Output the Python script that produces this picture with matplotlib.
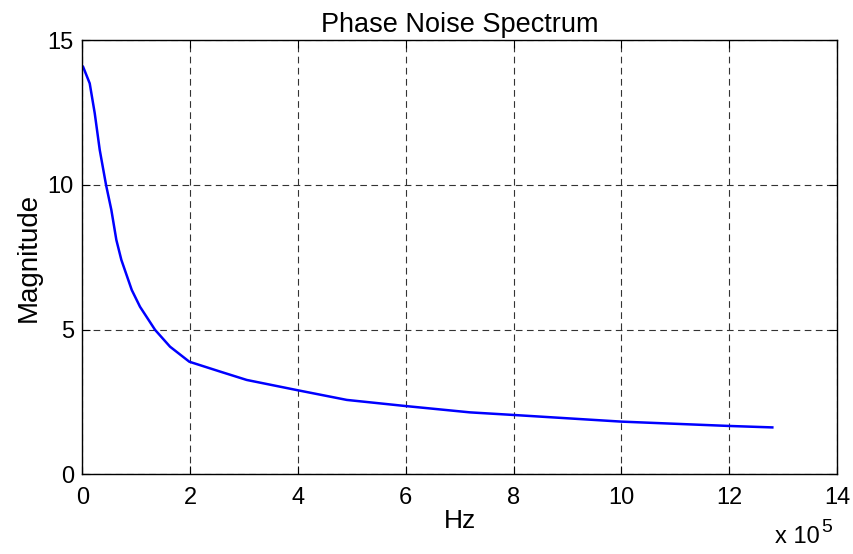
import numpy as np
import matplotlib
matplotlib.use('Agg')
import matplotlib.pyplot as plt

plt.rcParams['font.family'] = ['Liberation Sans', 'DejaVu Sans']

# values (Hz in units of 1e5)
freq = [0, 0.013, 0.137, 0.23, 0.323, 0.44, 0.538, 0.631, 0.724,
        0.917, 1.07, 1.35, 1.627, 1.985, 2.555, 3.05, 3.98,
        4.906, 5.988, 7.19, 8.0, 10.0, 12.0, 12.8]
mag = [14.11, 14.09, 13.51, 12.48, 11.21, 10.0, 9.14, 8.1, 7.41,
       6.37, 5.79, 4.99, 4.41, 3.89, 3.55, 3.26, 2.91,
       2.57, 2.36, 2.14, 2.05, 1.82, 1.67, 1.62]
xticks = [0, 2, 4, 6, 8, 10, 12, 14]
yticks = [0, 5, 10, 15]

fig = plt.figure(figsize=(8.54, 5.54), dpi=100)
ax = fig.add_axes([0.0964, 0.1439, 0.8837, 0.7834])

ax.plot(np.array(freq), np.array(mag), color='#0000ff', linewidth=1.8)

ax.set_xlim(0, 14)
ax.set_ylim(0, 15)
ax.set_xticks(xticks)
ax.set_yticks(yticks)
ax.tick_params(direction='in', length=6, labelsize=17, width=0.8,
               top=True, right=True)
ax.tick_params(axis='x', pad=9)
ax.tick_params(axis='y', pad=6)
ax.grid(True, color='#333333', linestyle=(0, (6, 4)), linewidth=0.8)
for s in ax.spines.values():
    s.set_linewidth(1.0)

ax.set_title('Phase Noise Spectrum', fontsize=19.5, pad=6)
ax.set_xlabel('Hz', fontsize=19, labelpad=0)
ax.set_ylabel('Magnitude', fontsize=20, labelpad=4)
# exponent label, placed like the MATLAB one
fig.text(0.907, 0.02, 'x 10', fontsize=17)
fig.text(0.962, 0.04, '5', fontsize=14)

fig.savefig('out.png', dpi=100, facecolor='white')
